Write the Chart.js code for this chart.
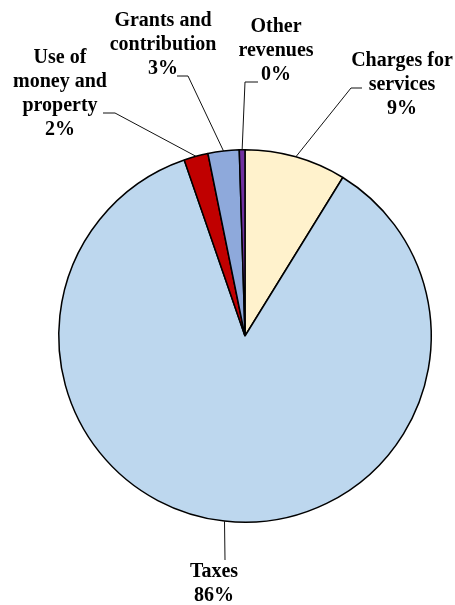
<!DOCTYPE html>
<html lang="en">
<head>
    <meta charset="UTF-8">
    <title>Revenues by source</title>
    <style>
        body { margin: 0; background: #fff; }
        .chart-box { width: 455px; height: 605px; position: relative; }
    </style>
</head>
<body>
    <div class="chart-box">
        <canvas id="revenueChart"></canvas>
    </div>
    <script src="https://cdn.jsdelivr.net/npm/chart.js@4.4.1/dist/chart.umd.min.js"></script>
    <script>
        // revenue sources, clockwise from 12 o'clock
        const sources = [
            ['Charges for', 'services'],
            ['Taxes'],
            ['Use of', 'money and', 'property'],
            ['Grants and', 'contribution'],
            ['Other', 'revenues'],
        ]
        const shares = [8.8, 85.9, 2.1, 2.7, 0.49]
        const sliceColors = ['#FFF2CC', '#BDD7EE', '#C00000', '#8EA9DB', '#7030A0']

        // where each label sits (text centre x, first line y) and the elbow of its leader line
        const labelLayout = [
            { x: 402, y: 61,  elbow: [351, 88],  end: 362 },
            { x: 214, y: 572, elbow: [225, 560], end: 225 },
            { x: 60,  y: 58,  elbow: [115, 113], end: 103 },
            { x: 163, y: 21,  elbow: [188, 76],  end: 177 },
            { x: 276, y: 27,  elbow: [245, 82],  end: 258 },
        ]

        const total = shares.reduce((a, b) => a + b, 0)

        // draws the category + percent labels with their leader lines
        const leaderLabels = {
            id: 'leaderLabels',
            afterDatasetsDraw(chart) {
                const ctx = chart.ctx
                const arcs = chart.getDatasetMeta(0).data
                ctx.save()
                arcs.forEach((arc, i) => {
                    const mid = (arc.startAngle + arc.endAngle) / 2
                    const ax = arc.x + Math.cos(mid) * arc.outerRadius
                    const ay = arc.y + Math.sin(mid) * arc.outerRadius
                    const lay = labelLayout[i]

                    ctx.strokeStyle = '#111'
                    ctx.lineWidth = 1
                    ctx.beginPath()
                    ctx.moveTo(ax, ay)
                    ctx.lineTo(lay.elbow[0], lay.elbow[1])
                    ctx.lineTo(lay.end, lay.elbow[1])
                    ctx.stroke()

                    const pct = Math.round(shares[i] / total * 100) + '%'
                    const lines = sources[i].concat([pct])
                    ctx.fillStyle = '#000'
                    ctx.font = 'bold 20px "Liberation Serif", serif'
                    ctx.textAlign = 'center'
                    ctx.textBaseline = 'middle'
                    lines.forEach((t, k) => {
                        ctx.fillText(t, lay.x, lay.y + k * 24)
                    })
                })
                ctx.restore()
            }
        }

        const revenueChart = document.querySelector('#revenueChart')

        new Chart(revenueChart, {
            type: 'pie',
            data: {
                labels: sources.map(s => s.join(' ')),
                datasets: [
                    {
                        data: shares,
                        backgroundColor: sliceColors,
                        borderColor: '#000',
                        borderWidth: 1.5,
                    },
                ],
            },
            options: {
                responsive: true,
                maintainAspectRatio: false,
                animation: false,
                layout: {
                    padding: { left: 58, right: 23, top: 149, bottom: 82 },
                },
                plugins: {
                    legend: { display: false },
                    tooltip: { enabled: false },
                },
            },
            plugins: [leaderLabels],
        })
    </script>
</body>
</html>
